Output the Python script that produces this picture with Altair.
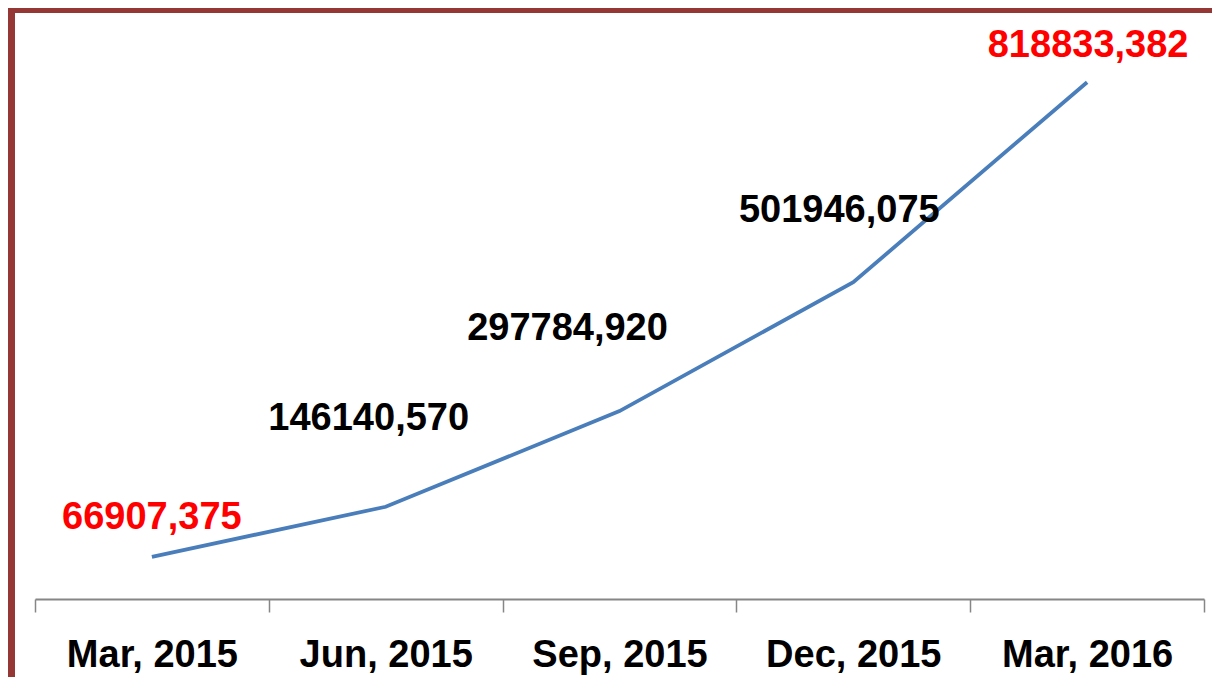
import altair as alt
import pandas as pd

months = ["Mar, 2015", "Jun, 2015", "Sep, 2015", "Dec, 2015", "Mar, 2016"]
values = [66907.375, 146140.570, 297784.920, 501946.075, 818833.382]
labels = ["66907,375", "146140,570", "297784,920", "501946,075", "818833,382"]

df = pd.DataFrame({"month": months, "value": values, "label": labels, "idx": list(range(len(months)))})

W, H = 1169, 568
FONT = "Liberation Sans"

x = alt.X("month:N", sort=months, title=None,
          scale=alt.Scale(type="band", paddingInner=0, paddingOuter=0),
          axis=alt.Axis(tickBand="extent", labelAngle=0, labelFont=FONT, labelFontSize=38,
                        labelFontWeight="bold", labelColor="black", labelPadding=24,
                        tickSize=13, tickColor="#868686", tickWidth=1.5,
                        domainColor="#868686", domainWidth=2, grid=False))
y = alt.Y("value:Q", scale=alt.Scale(domain=[0, 900000]), axis=None)

base = alt.Chart(df)
line = base.mark_line(color="#4A7EBB", strokeWidth=3.8).encode(x=x, y=y)

label_styles = [
    (0, -39, "#FF0000"),
    (-17, -88, "black"),
    (-52, -82, "black"),
    (-14, -71, "black"),
    (1, -36, "#FF0000"),
]
text_layers = []
for i, (dx, dy, col) in enumerate(label_styles):
    t = base.transform_filter(alt.datum.idx == i).mark_text(
        font=FONT, fontSize=38, fontWeight="bold", color=col,
        align="center", baseline="middle", dx=dx, dy=dy
    ).encode(x=x, y=y, text="label:N")
    text_layers.append(t)

border = alt.Chart(df).mark_rect(fill=None, stroke="#953735", strokeWidth=7).encode(
    x=alt.value(-23.5), x2=alt.value(W + 60), y=alt.value(-21.5), y2=alt.value(H + 140)
).transform_filter(alt.datum.idx == 0)

chart = alt.layer(border, line, *text_layers).properties(
    width=W, height=H,
    background="white",
    autosize=alt.AutoSizeParams(type="none"),
    padding={"left": 27, "top": 23, "right": 8, "bottom": 78},
).configure_view(stroke=None, strokeWidth=0)

chart.save("out.html", embed_options={"renderer": "svg", "actions": False})
